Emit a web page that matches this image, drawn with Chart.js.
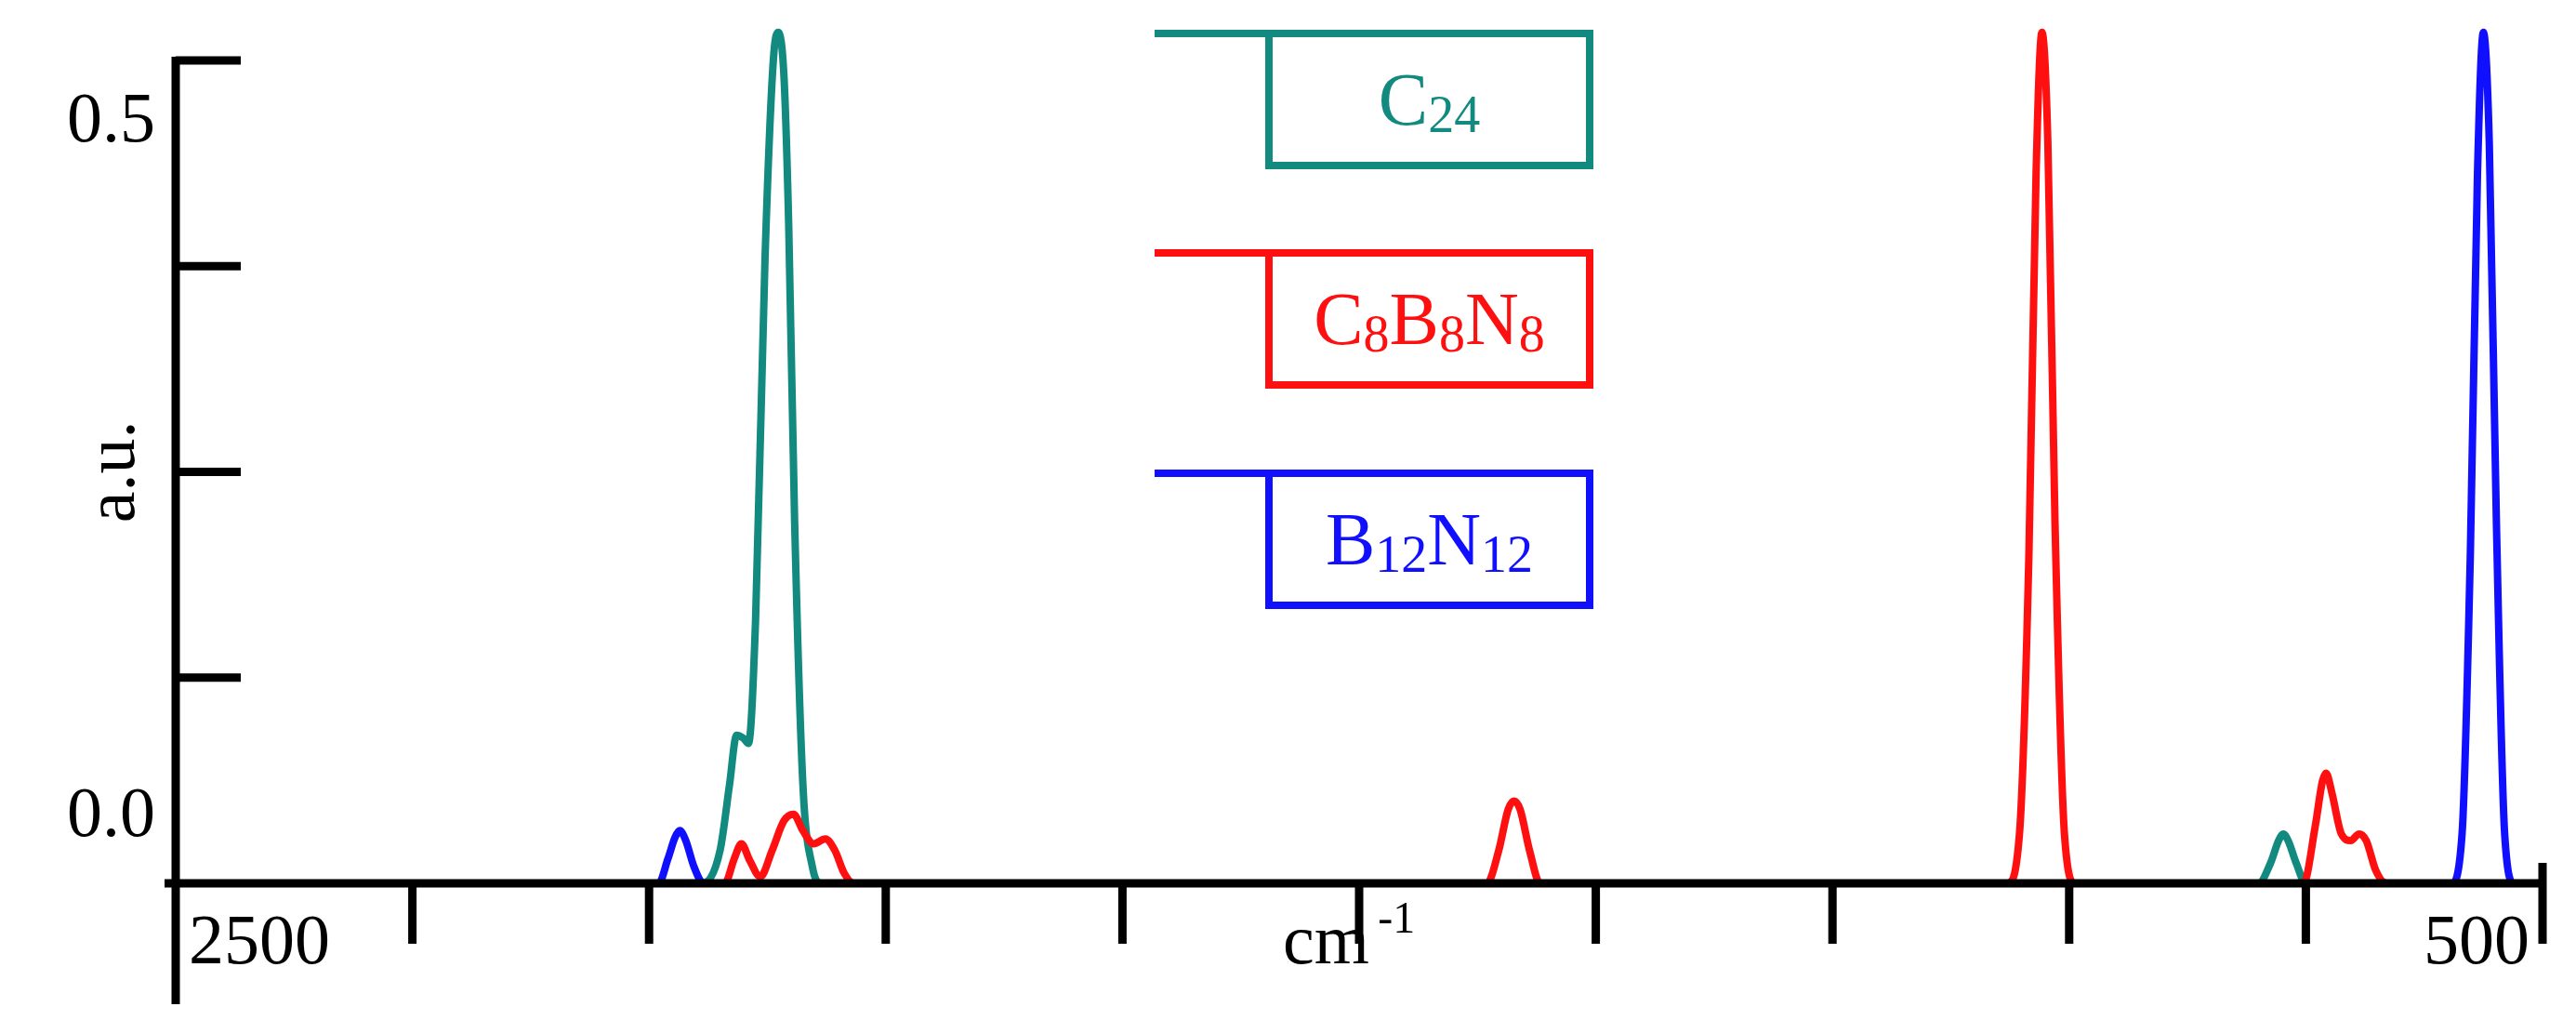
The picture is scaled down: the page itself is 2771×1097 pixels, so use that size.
<!DOCTYPE html>
<html><head><meta charset="utf-8">
<script src="https://cdn.jsdelivr.net/npm/chart.js@4/dist/chart.umd.min.js"></script>
<style>
html,body{margin:0;padding:0;background:#fff;}
#wrap{position:relative;width:2771px;height:1097px;}
.lg{position:absolute;font-family:"Liberation Serif",serif;font-size:80px;box-sizing:border-box;border:8px solid;background:#fff;display:flex;align-items:center;justify-content:center;width:353px;height:150px;left:1361px;}
.stub{position:absolute;left:1242px;width:125px;height:8px;}
.s{font-size:56px;position:relative;top:16px;}
</style></head>
<body><div id="wrap"><canvas id="c" width="2771" height="1097"></canvas>
<div class="stub" style="top:32px;background:#138a80"></div>
<div class="lg" style="top:32px;color:#138a80;border-color:#138a80">C<span class="s">24</span></div>
<div class="stub" style="top:268px;background:#ff1010"></div>
<div class="lg" style="top:268px;color:#ff1010;border-color:#ff1010">C<span class="s">8</span>B<span class="s">8</span>N<span class="s">8</span></div>
<div class="stub" style="top:505px;background:#1010ff"></div>
<div class="lg" style="top:505px;color:#1010ff;border-color:#1010ff">B<span class="s">12</span>N<span class="s">12</span></div>
</div>
<script>
// spectra as [wavenumber cm-1, intensity a.u.]
const c24 = [[2500,0],[2055,0],[2040,0.02],[2032,0.06],[2026,0.09],[2020,0.088],[2016,0.085],[2010,0.16],[2002,0.38],[1995,0.5],[1991,0.517],[1986,0.49],[1982,0.4],[1977,0.22],[1970,0.06],[1962,0.01],[1955,0],[740,0],[730,0.012],[723,0.026],[719,0.03],[715,0.026],[708,0.012],[700,0],[500,0]];
const c8b8n8 = [[2500,0],[2036,0],[2028,0.015],[2022,0.024],[2015,0.014],[2006,0.004],[1996,0.02],[1986,0.038],[1978,0.042],[1970,0.032],[1961,0.024],[1951,0.027],[1943,0.02],[1935,0.006],[1927,0],[1392,0],[1382,0.02],[1374,0.045],[1369,0.05],[1364,0.045],[1356,0.02],[1347,0],[952,0],[942,0.03],[934,0.2],[928,0.43],[923,0.517],[918,0.45],[912,0.22],[904,0.03],[895,0],[702,0],[692,0.035],[686,0.062],[683,0.067],[678,0.055],[670,0.03],[662,0.026],[655,0.03],[649,0.026],[641,0.008],[632,0],[500,0]];
const b12n12 = [[2500,0],[2092,0],[2084,0.015],[2078,0.028],[2074,0.032],[2069,0.026],[2062,0.01],[2054,0],[577,0],[568,0.03],[561,0.2],[555,0.43],[550,0.517],[545,0.45],[539,0.22],[532,0.03],[524,0],[500,0]];
const xTicks = [2500,2300,2100,1900,1700,1500,1300,1100,900,700,500];
const yTicks = [0,0.125,0.25,0.375,0.5];

const toXY = arr => arr.map(([x,y]) => ({x,y}));
const FONT = '"Liberation Serif", serif';

const axesPlugin = {
  id:'axes',
  afterDraw(chart){
    const {ctx, scales:{x,y}} = chart;
    const y0 = y.getPixelForValue(0), yTop = y.getPixelForValue(0.5);
    const xl = x.getPixelForValue(2500), xr = x.getPixelForValue(500);
    ctx.save();
    ctx.strokeStyle='#000'; ctx.lineWidth=9; ctx.lineCap='butt';
    ctx.beginPath();
    ctx.moveTo(xl-12,y0); ctx.lineTo(xr+4,y0);
    ctx.moveTo(xl,yTop-4); ctx.lineTo(xl,1080);
    xTicks.forEach(t=>{ if(t===2500) return; const px=x.getPixelForValue(t);
      ctx.moveTo(px, t===500 ? y0-22 : y0); ctx.lineTo(px, y0+65); });
    yTicks.forEach(t=>{ if(t===0) return; const py=y.getPixelForValue(t);
      ctx.moveTo(xl,py); ctx.lineTo(xl+70,py); });
    ctx.stroke();
    ctx.fillStyle='#000'; ctx.font='76px '+FONT; ctx.textBaseline='middle';
    ctx.textAlign='right';
    ctx.fillText('0.5', xl-22, y.getPixelForValue(0.462));
    ctx.fillText('0.0', xl-22, y.getPixelForValue(0.04));
    ctx.textAlign='left'; ctx.fillText('2500', xl+14, 1016);
    ctx.textAlign='right'; ctx.fillText('500', xr-14, 1016);
    ctx.textAlign='center';
    const cx = x.getPixelForValue(1517);
    ctx.fillText('cm', cx-14, 1016);
    ctx.font='48px '+FONT; ctx.fillText('-1', cx+62, 990);
    ctx.font='76px '+FONT;
    ctx.translate(124, y.getPixelForValue(0.25)); ctx.rotate(-Math.PI/2);
    ctx.fillText('a.u.', 0, 0);
    ctx.restore();
  }
};

const ds = (data,color) => ({data:toXY(data), borderColor:color, borderWidth:8, pointRadius:0, cubicInterpolationMode:'monotone', fill:false});

new Chart(document.getElementById('c'), {
  type:'line',
  data:{datasets:[ds(c8b8n8,'#ff1010'), ds(b12n12,'#1010ff'), ds(c24,'#138a80')]},
  options:{
    responsive:false, animation:false,
    layout:{padding:{top:10,right:36,left:0,bottom:0}},
    plugins:{legend:{display:false},tooltip:{enabled:false}},
    scales:{
      x:{type:'linear', reverse:true, min:500, max:2500,
         afterFit(s){s.height=147;}, ticks:{display:false}, grid:{display:false}, border:{display:false}},
      y:{min:0, max:0.531,
         afterFit(s){s.width=189;}, ticks:{display:false}, grid:{display:false}, border:{display:false}}
    }
  },
  plugins:[axesPlugin]
});
</script></body></html>
